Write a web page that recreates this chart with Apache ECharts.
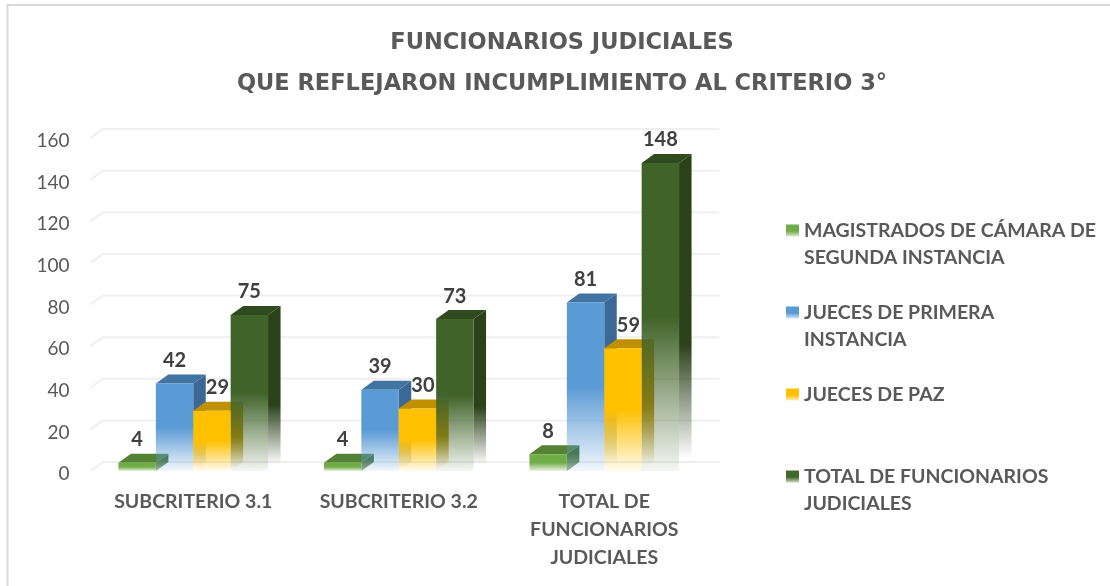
<!DOCTYPE html>
<html>
<head>
<meta charset="utf-8">
<style>
  html, body { margin: 0; padding: 0; background: #fff; }
  #chart { width: 1110px; height: 586px; }
</style>
<script src="https://cdn.jsdelivr.net/npm/echarts@6/dist/echarts.min.js"></script>
</head>
<body>
<div id="chart"></div>
<script>
const categories = ['SUBCRITERIO 3.1', 'SUBCRITERIO 3.2', 'TOTAL DE\nFUNCIONARIOS\nJUDICIALES'];
const magistrados = [4, 4, 8];
const juecesPrimera = [42, 39, 81];
const juecesPaz = [29, 30, 59];
const totalFuncionarios = [75, 73, 148];
const yTicks = [0, 20, 40, 60, 80, 100, 120, 140, 160];
const legendLines = {
  'MAGISTRADOS DE CÁMARA DE SEGUNDA INSTANCIA': ' \nMAGISTRADOS DE CÁMARA DE\nSEGUNDA INSTANCIA',
  'JUECES DE PRIMERA INSTANCIA': ' \nJUECES DE PRIMERA\nINSTANCIA',
  'JUECES DE PAZ': ' \nJUECES DE PAZ\n ',
  'TOTAL DE FUNCIONARIOS JUDICIALES': ' \nTOTAL DE FUNCIONARIOS\nJUDICIALES'
};

const FONT = 'Lato';
const GREY = '#595959';
const DEPTH_X = 12.5;
const DEPTH_Y = 9;

function fade(r, g, b, start, endAlpha, end) {
  return new echarts.graphic.LinearGradient(0, 0, 0, 1, [
    {offset: 0, color: `rgba(${r},${g},${b},1)`},
    {offset: start, color: `rgba(${r},${g},${b},1)`},
    {offset: end || 1, color: `rgba(${r},${g},${b},${endAlpha})`},
    {offset: 1, color: `rgba(${r},${g},${b},${endAlpha})`}
  ]);
}

function barSeries(name, values, idx, front, side, top, labelShift) {
  return {
    name: name,
    type: 'custom',
    clip: false,
    encode: {x: 0, y: 1},
    data: values.map((v, i) => [i, v]),
    renderItem: function (params, api) {
      const base = api.coord([api.value(0), 0]);
      const head = api.coord([api.value(0), api.value(1)]);
      const w = api.size([1, 0])[0] * 0.182;
      const x1 = base[0] + (idx - 2) * w;
      const x2 = x1 + w;
      const y0 = base[1];
      const y1 = head[1];
      return {
        type: 'group',
        children: [
          {
            type: 'polygon',
            shape: {points: [[x2, y1], [x2 + DEPTH_X, y1 - DEPTH_Y], [x2 + DEPTH_X, y0 - DEPTH_Y], [x2, y0]]},
            style: {fill: side}
          },
          {
            type: 'polygon',
            shape: {points: [[x1, y1], [x1 + DEPTH_X, y1 - DEPTH_Y], [x2 + DEPTH_X, y1 - DEPTH_Y], [x2, y1]]},
            style: {fill: top}
          },
          {
            type: 'rect',
            shape: {x: x1, y: y1, width: w, height: y0 - y1},
            style: {fill: front}
          },
          {
            type: 'text',
            x: (x1 + x2) / 2 + labelShift,
            y: y1 - 23,
            z2: 50,
            style: {
              text: String(api.value(1)),
              fill: '#404040',
              font: `bold 20px ${FONT}`,
              align: 'center',
              verticalAlign: 'middle'
            }
          }
        ]
      };
    }
  };
}

const names = Object.keys(legendLines);
const legendIcon = (r, g, b) => ({
  type: 'linear', x: 0, y: 0, x2: 0, y2: 1,
  colorStops: [
    {offset: 0, color: `rgb(${r},${g},${b})`},
    {offset: 0.55, color: `rgb(${r},${g},${b})`},
    {offset: 1, color: `rgba(${r},${g},${b},0.25)`}
  ]
});

const chart = echarts.init(document.getElementById('chart'), null, {renderer: 'canvas'});
chart.setOption({
  animation: false,
  backgroundColor: '#fff',
  textStyle: {fontFamily: FONT},
  title: {
    text: 'FUNCIONARIOS JUDICIALES\nQUE REFLEJARON INCUMPLIMIENTO AL CRITERIO 3°',
    left: 557,
    top: 18,
    textAlign: 'center',
    textStyle: {color: GREY, fontFamily: 'DejaVu Sans', fontWeight: 'bold', fontSize: 22.5, lineHeight: 41}
  },
  legend: {
    orient: 'vertical',
    left: 781,
    top: 185,
    itemWidth: 13,
    itemHeight: 12,
    itemGap: 1,
    icon: 'rect',
    selectedMode: false,
    formatter: (n) => legendLines[n],
    textStyle: {color: GREY, fontFamily: FONT, fontWeight: 'bold', fontSize: 19.5, lineHeight: 27},
    data: [
      {name: names[0], itemStyle: {color: legendIcon(112, 173, 71)}},
      {name: names[1], itemStyle: {color: legendIcon(91, 155, 213)}},
      {name: names[2], itemStyle: {color: legendIcon(255, 192, 0)}},
      {name: names[3], itemStyle: {color: legendIcon(67, 104, 43)}}
    ]
  },
  grid: {left: 90.5, top: 138, width: 616.5, height: 333, containLabel: false},
  xAxis: {
    type: 'category',
    data: categories,
    axisLine: {show: false},
    axisTick: {show: false},
    axisLabel: {color: GREY, fontFamily: FONT, fontWeight: 'bold', fontSize: 19.5, lineHeight: 28, margin: 17, interval: 0}
  },
  yAxis: {
    type: 'value',
    min: 0,
    max: 160,
    interval: 20,
    axisLine: {show: false},
    axisTick: {show: false},
    splitLine: {show: false},
    axisLabel: {color: GREY, fontFamily: FONT, fontSize: 19, margin: 21, verticalAlign: 'top', lineHeight: 6}
  },
  graphic: [{
    type: 'polyline',
    shape: {points: [[7.5, 586], [7.5, 5], [1110, 5]]},
    style: {stroke: '#d9d9d9', lineWidth: 2, fill: null},
    silent: true
  }],
  series: [
    {
      name: 'gridlines',
      type: 'custom',
      clip: false,
      silent: true,
      z: 1,
      encode: {y: 0},
      data: yTicks.map((t) => [t]),
      renderItem: function (params, api) {
        const cs = params.coordSys;
        const y = api.coord([0, api.value(0)])[1];
        return {
          type: 'polyline',
          shape: {points: [[cs.x, y], [cs.x + DEPTH_X, y - DEPTH_Y], [cs.x + cs.width + DEPTH_X, y - DEPTH_Y]]},
          style: {stroke: '#efefef', lineWidth: 2, fill: null}
        };
      }
    },
    barSeries(names[0], magistrados, 0, fade(112, 173, 71, 0.5, 0.15), fade(62, 107, 40, 0.3, 0.45), '#548235', 0),
    barSeries(names[1], juecesPrimera, 1, fade(91, 155, 213, 0.5, 0.08), fade(59, 104, 148, 0.5, 0, 0.96), '#4174a3', 0),
    barSeries(names[2], juecesPaz, 2, fade(255, 192, 0, 0.5, 0.06), fade(191, 144, 0, 0.5, 0, 0.96), '#bf9000', 5.5),
    barSeries(names[3], totalFuncionarios, 3, fade(64, 99, 41, 0.5, 0.05), fade(42, 65, 26, 0.6, 0, 0.96), '#304a1f', 0)
  ]
});
</script>
</body>
</html>
